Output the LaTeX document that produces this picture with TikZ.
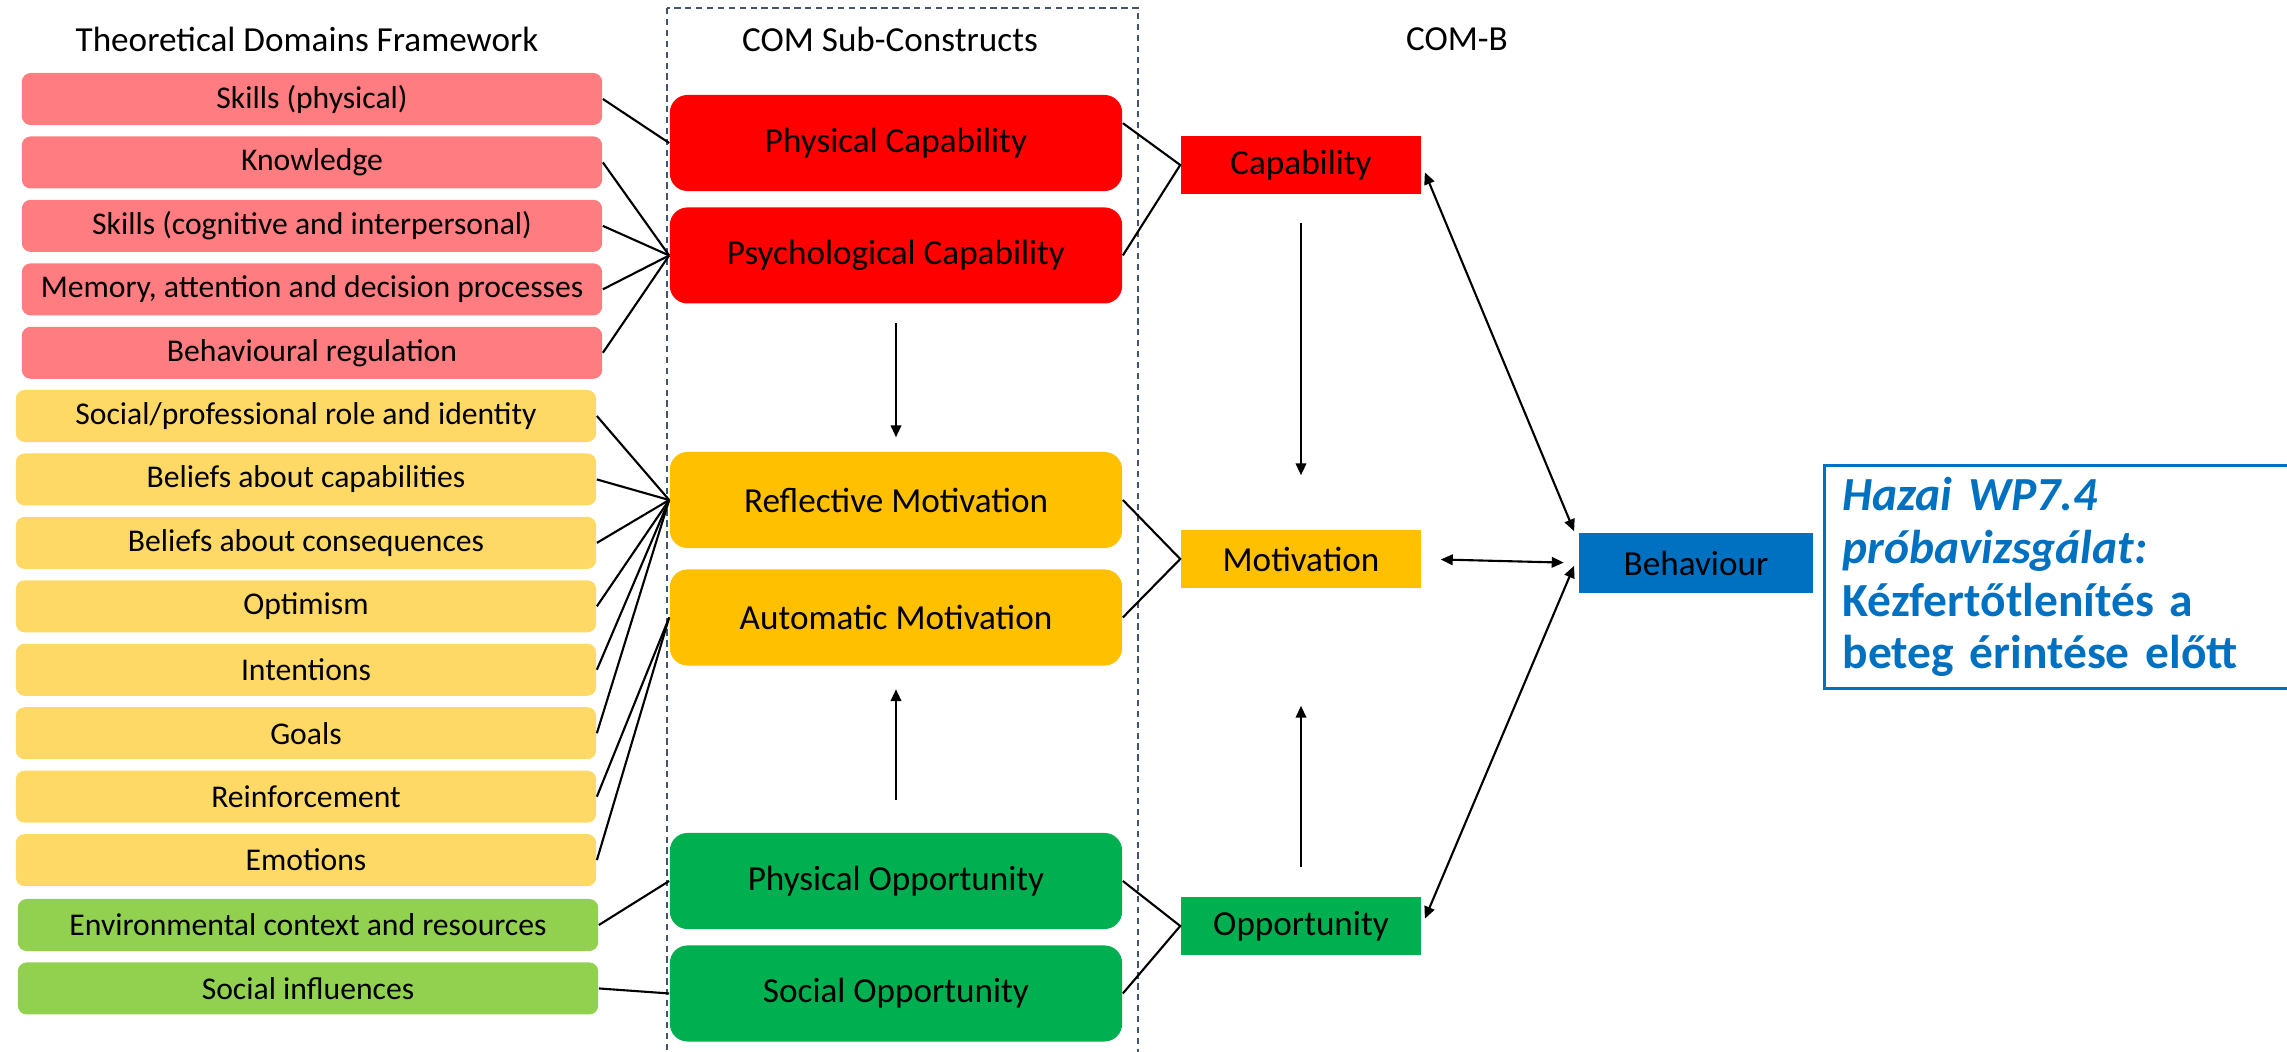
\documentclass[tikz,border=0pt]{standalone}
\usepackage{fontspec}
\setmainfont{Carlito}
\usetikzlibrary{arrows.meta,positioning}

\definecolor{tdfred}{HTML}{FF7C80}
\definecolor{tdfyellow}{HTML}{FFD966}
\definecolor{tdfgreen}{HTML}{92D050}
\definecolor{comred}{HTML}{FF0000}
\definecolor{comyellow}{HTML}{FFC000}
\definecolor{comgreen}{HTML}{00B050}
\definecolor{behblue}{HTML}{0070C0}
\definecolor{framegray}{HTML}{44546A}

\begin{document}
\begin{tikzpicture}[
    x=0.01cm, y=-0.01cm,
    tdfbox/.style={rectangle, rounded corners=2.5pt, minimum width=5.8cm, minimum height=0.52cm, inner sep=0pt, font=\fontsize{9}{10}\selectfont},
    subbox/.style={rectangle, rounded corners=5pt, minimum width=4.52cm, minimum height=0.96cm, inner sep=0pt, font=\fontsize{10}{12}\selectfont},
    combbox/.style={rectangle, minimum width=2.4cm, minimum height=0.58cm, inner sep=0pt, font=\fontsize{10}{12}\selectfont},
    headtxt/.style={font=\fontsize{10}{12}\selectfont},
    notebox/.style={draw=behblue, line width=0.9pt, text=behblue, text width=4.5cm, minimum height=2.12cm, inner xsep=0.18cm, align=left, font=\bfseries\fontsize{13.5}{15}\selectfont},
    link/.style={line width=0.6pt},
    arr/.style={-{Triangle[length=3.4pt, width=3pt]}, line width=0.6pt},
    dbl/.style={{Triangle[length=3.4pt, width=3pt]}-{Triangle[length=3.4pt, width=3pt]}, line width=0.6pt}
]
    \useasboundingbox (0,0) rectangle (2287,1052);
    \clip (0,0) rectangle (2287,1052);

    % column headings
    \node[headtxt] (htdf) at (307,39) {Theoretical Domains Framework};
    \node[headtxt] (hsub) at (890,39) {COM Sub-Constructs};
    \node[headtxt] (hcomb) at (1457,39) {COM-B};

    \draw[framegray, line width=0.5pt, dash pattern=on 1.8pt off 1.3pt] (667,8) rectangle (1138,1070);

    % TDF domains
    \node[tdfbox, fill=tdfred] (skp) at (312,99) {Skills (physical)};
    \node[tdfbox, fill=tdfred, below=0.1cm of skp] (knw) {Knowledge};
    \node[tdfbox, fill=tdfred, below=0.1cm of knw] (skc) {Skills (cognitive and interpersonal)};
    \node[tdfbox, fill=tdfred, below=0.1cm of skc] (mem) {Memory, attention and decision processes};
    \node[tdfbox, fill=tdfred, below=0.1cm of mem] (breg) {Behavioural regulation};

    \node[tdfbox, fill=tdfyellow] (role) at (306,416) {Social/professional role and identity};
    \node[tdfbox, fill=tdfyellow, below=0.1cm of role] (bcap) {Beliefs about capabilities};
    \node[tdfbox, fill=tdfyellow, below=0.1cm of bcap] (bcon) {Beliefs about consequences};
    \node[tdfbox, fill=tdfyellow, below=0.1cm of bcon] (opt) {Optimism};
    \node[tdfbox, fill=tdfyellow, below=0.1cm of opt] (intn) {Intentions};
    \node[tdfbox, fill=tdfyellow, below=0.1cm of intn] (goal) {Goals};
    \node[tdfbox, fill=tdfyellow, below=0.1cm of goal] (reinf) {Reinforcement};
    \node[tdfbox, fill=tdfyellow, below=0.1cm of reinf] (emo) {Emotions};

    \node[tdfbox, fill=tdfgreen] (env) at (308,925) {Environmental context and resources};
    \node[tdfbox, fill=tdfgreen, below=0.1cm of env] (sinf) {Social influences};

    % COM sub-constructs
    \node[subbox, fill=comred] (pcap) at (896,143) {Physical Capability};
    \node[subbox, fill=comred, below=0.15cm of pcap] (psy) {Psychological Capability};
    \node[subbox, fill=comyellow] (refl) at (896,500) {Reflective Motivation};
    \node[subbox, fill=comyellow, below=0.2cm of refl] (auto) {Automatic Motivation};
    \node[subbox, fill=comgreen] (popp) at (896,881) {Physical Opportunity};
    \node[subbox, fill=comgreen, below=0.15cm of popp] (sopp) {Social Opportunity};

    % COM-B
    \node[combbox, fill=comred] (cap) at (1301,165) {Capability};
    \node[combbox, fill=comyellow] (mot) at (1301,559) {Motivation};
    \node[combbox, fill=comgreen] (opp) at (1301,926) {Opportunity};
    \node[combbox, fill=behblue, minimum width=2.33cm, minimum height=0.6cm] (beh) at (1696,563) {Behaviour};

    \node[notebox, anchor=north west] (note) at (1823,464) {\textit{Hazai WP7.4}\\\textit{próbavizsgálat:}\\Kézfertőtlenítés a\\beteg érintése előtt};

    % domain links
    \draw[link] (skp.east) -- (pcap.west);
    \draw[link] (knw.east) -- (psy.west);
    \draw[link] (skc.east) -- (psy.west);
    \draw[link] (mem.east) -- (psy.west);
    \draw[link] (breg.east) -- (psy.west);
    \draw[link] (role.east) -- (refl.west);
    \draw[link] (bcap.east) -- (refl.west);
    \draw[link] (bcon.east) -- (refl.west);
    \draw[link] (opt.east) -- (refl.west);
    \draw[link] (intn.east) -- (refl.west);
    \draw[link] (goal.east) -- (refl.west);
    \draw[link] (reinf.east) -- (auto.west);
    \draw[link] (emo.east) -- (auto.west);
    \draw[link] (env.east) -- (popp.west);
    \draw[link] (sinf.east) -- (sopp.west);

    % sub-constructs to COM-B
    \draw[link] (pcap.5) -- (cap.west) -- (psy.east);
    \draw[link] (refl.east) -- (mot.west) -- (auto.east);
    \draw[link] (popp.east) -- (opp.west) -- (sopp.east);

    % arrows
    \draw[arr, shorten <=0.19cm, shorten >=0.14cm] (psy) -- (refl);
    \draw[arr, shorten <=0.32cm, shorten >=0.23cm] (popp) -- (auto);
    \draw[arr, shorten <=0.28cm, shorten >=0.54cm] (cap) -- (mot);
    \draw[arr, shorten <=0.29cm, shorten >=1.17cm] (opp) -- (mot);
    \draw[dbl, shorten <=0.19cm, shorten >=0.15cm] (mot.east) -- (beh.west);
    \draw[dbl, shorten <=0.08cm, shorten >=0.12cm] (cap.east) -- (beh.170);
    \draw[dbl, shorten <=0.08cm, shorten >=0.12cm] (opp.east) -- (beh.176);
\end{tikzpicture}
\end{document}
